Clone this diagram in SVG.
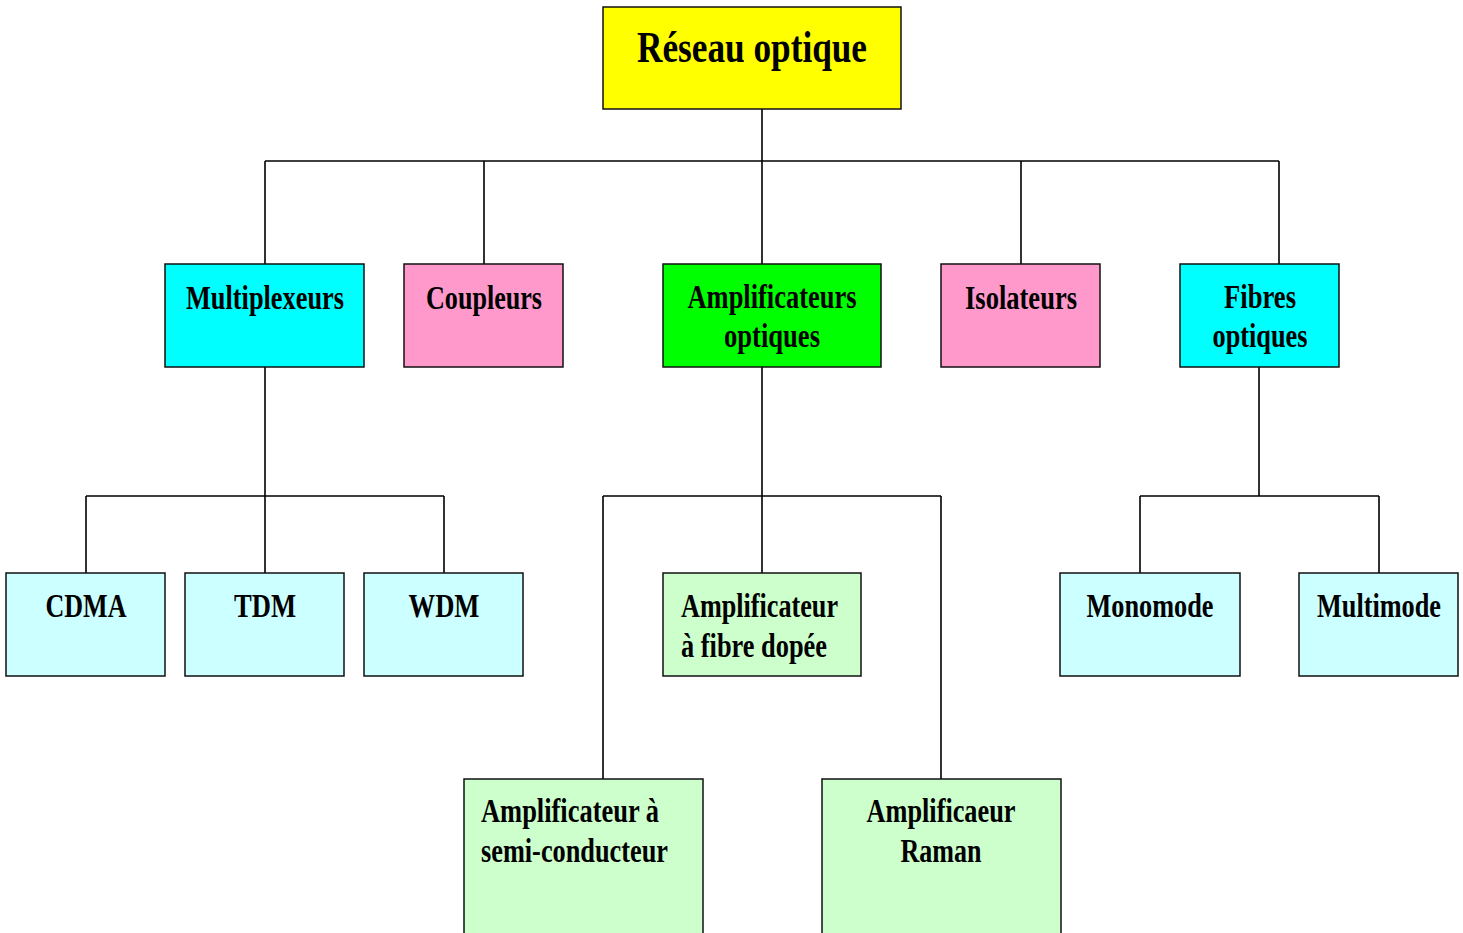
<svg xmlns="http://www.w3.org/2000/svg" width="1463" height="933" viewBox="0 0 1463 933">
<style>
.b{stroke:#111;stroke-width:1.5}
.t{font-family:"Liberation Serif","Times New Roman",serif;font-weight:bold;font-size:33px;fill:#000}
.c{text-anchor:middle}
.big{font-size:45px}
.w{stroke:#000;stroke-width:1.6;fill:none}
</style>
<rect width="1463" height="933" fill="#fff"/>
<g id="connectors" class="w">
<path d="M762 109V161M265 161H1279M265 161V264M484 161V264M762 161V264M1021 161V264M1279 161V264"/>
<path d="M265 367V496M86 496H444M86 496V573M265 496V573M444 496V573"/>
<path d="M762 367V496M603 496H941M603 496V779M762 496V573M941 496V779"/>
<path d="M1259 367V496M1140 496H1379M1140 496V573M1379 496V573"/>
</g>
<g id="root"><rect class="b" x="603" y="7" width="298" height="102" fill="#FFFF00"/><text class="t c big" x="752" y="62" textLength="230" lengthAdjust="spacingAndGlyphs">Réseau optique</text></g>
<g id="multiplexeurs"><rect class="b" x="165" y="264" width="199" height="103" fill="#00FFFF"/><text class="t c" x="265" y="309" textLength="158" lengthAdjust="spacingAndGlyphs">Multiplexeurs</text></g>
<g id="coupleurs"><rect class="b" x="404" y="264" width="159" height="103" fill="#FF99CC"/><text class="t c" x="484" y="309" textLength="116" lengthAdjust="spacingAndGlyphs">Coupleurs</text></g>
<g id="amplificateurs"><rect class="b" x="663" y="264" width="218" height="103" fill="#00FF00"/><text class="t c" x="772" y="308" textLength="169" lengthAdjust="spacingAndGlyphs">Amplificateurs</text><text class="t c" x="772" y="347" textLength="96" lengthAdjust="spacingAndGlyphs">optiques</text></g>
<g id="isolateurs"><rect class="b" x="941" y="264" width="159" height="103" fill="#FF99CC"/><text class="t c" x="1021" y="309" textLength="112" lengthAdjust="spacingAndGlyphs">Isolateurs</text></g>
<g id="fibres"><rect class="b" x="1180" y="264" width="159" height="103" fill="#00FFFF"/><text class="t c" x="1260" y="308" textLength="72" lengthAdjust="spacingAndGlyphs">Fibres</text><text class="t c" x="1260" y="347" textLength="95" lengthAdjust="spacingAndGlyphs">optiques</text></g>
<g id="cdma"><rect class="b" x="6" y="573" width="159" height="103" fill="#CCFFFF"/><text class="t c" x="86" y="617" textLength="81" lengthAdjust="spacingAndGlyphs">CDMA</text></g>
<g id="tdm"><rect class="b" x="185" y="573" width="159" height="103" fill="#CCFFFF"/><text class="t c" x="265" y="617" textLength="62" lengthAdjust="spacingAndGlyphs">TDM</text></g>
<g id="wdm"><rect class="b" x="364" y="573" width="159" height="103" fill="#CCFFFF"/><text class="t c" x="444" y="617" textLength="71" lengthAdjust="spacingAndGlyphs">WDM</text></g>
<g id="fibre-dopee"><rect class="b" x="663" y="573" width="198" height="103" fill="#CCFFCC"/><text class="t" x="681" y="617" textLength="157" lengthAdjust="spacingAndGlyphs">Amplificateur</text><text class="t" x="681" y="657" textLength="146" lengthAdjust="spacingAndGlyphs">à fibre dopée</text></g>
<g id="monomode"><rect class="b" x="1060" y="573" width="180" height="103" fill="#CCFFFF"/><text class="t c" x="1150" y="617" textLength="127" lengthAdjust="spacingAndGlyphs">Monomode</text></g>
<g id="multimode"><rect class="b" x="1299" y="573" width="159" height="103" fill="#CCFFFF"/><text class="t c" x="1379" y="617" textLength="124" lengthAdjust="spacingAndGlyphs">Multimode</text></g>
<g id="semi-conducteur"><rect class="b" x="464" y="779" width="239" height="160" fill="#CCFFCC"/><text class="t" x="481" y="822" textLength="178" lengthAdjust="spacingAndGlyphs">Amplificateur à</text><text class="t" x="481" y="862" textLength="187" lengthAdjust="spacingAndGlyphs">semi-conducteur</text></g>
<g id="raman"><rect class="b" x="822" y="779" width="239" height="160" fill="#CCFFCC"/><text class="t c" x="941" y="822" textLength="149" lengthAdjust="spacingAndGlyphs">Amplificaeur</text><text class="t c" x="941" y="862" textLength="81" lengthAdjust="spacingAndGlyphs">Raman</text></g>
</svg>
